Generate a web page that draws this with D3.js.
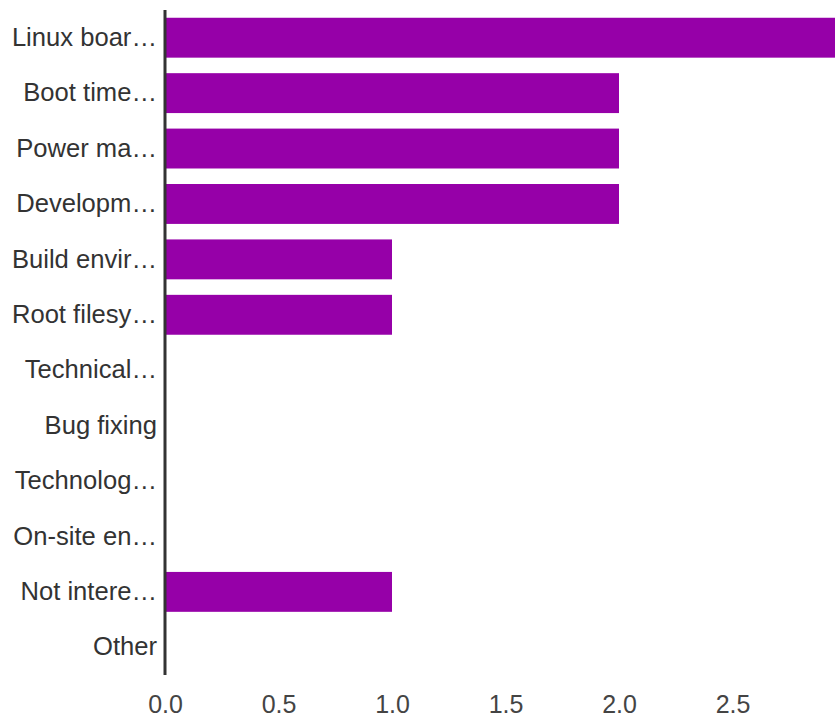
<!DOCTYPE html>
<html>
<head>
<meta charset="utf-8">
<script src="https://cdn.jsdelivr.net/npm/d3@7"></script>
<style>
  body { margin: 0; background: #fff; }
  svg { display: block; }
</style>
</head>
<body>
<svg id="chart" width="835" height="718"></svg>
<script>
// categories as shown on the axis (already truncated in the original)
const categories = [
  "Linux boar…",
  "Boot time…",
  "Power ma…",
  "Developm…",
  "Build envir…",
  "Root filesy…",
  "Technical…",
  "Bug fixing",
  "Technolog…",
  "On-site en…",
  "Not intere…",
  "Other"
];
const counts = [3, 2, 2, 2, 1, 1, 0, 0, 0, 0, 1, 0];
const xTicks = [0, 0.5, 1, 1.5, 2, 2.5];

const font = "'Liberation Sans', Arimo, Arial, sans-serif";
const svg = d3.select("#chart");
const margin = { top: 10, left: 165, bottom: 43 };
const height = +svg.attr("height");

// one unit is ~227px, so the top bar runs off the right edge
const xScale = d3.scaleLinear().domain([0, 3]).range([margin.left, margin.left + 681]);

const yScale = d3
  .scaleBand()
  .domain(categories)
  .range([margin.top, height - margin.bottom])
  .paddingInner(0.28)
  .paddingOuter(0.14);

svg.selectAll("rect.bar")
  .data(counts)
  .enter()
  .append("rect")
  .attr("class", "bar")
  .attr("x", xScale(0))
  .attr("y", (d, i) => yScale(categories[i]))
  .attr("width", (d) => xScale(d) - xScale(0))
  .attr("height", yScale.bandwidth())
  .attr("fill", "#9600a8");

// category labels
const yAxisG = svg
  .append("g")
  .attr("transform", `translate(${margin.left},0)`)
  .attr("font-family", font)
  .call(d3.axisLeft(yScale).tickSize(0).tickPadding(8));
yAxisG.select(".domain").remove();
yAxisG.selectAll("text")
  .attr("font-family", font)
  .attr("font-size", 25.6)
  .attr("fill", "#333");

svg.append("line")
  .attr("x1", margin.left)
  .attr("x2", margin.left)
  .attr("y1", margin.top)
  .attr("y2", height - margin.bottom)
  .attr("stroke", "#333")
  .attr("stroke-width", 3);

// value ticks
const xAxisG = svg
  .append("g")
  .attr("transform", `translate(0,${height - margin.bottom})`)
  .call(d3.axisBottom(xScale).tickValues(xTicks).tickFormat(d3.format(".1f")).tickSize(0).tickPadding(20));
xAxisG.select(".domain").remove();
xAxisG.selectAll("text")
  .attr("font-family", font)
  .attr("font-size", 25)
  .attr("fill", "#444");
</script>
</body>
</html>
